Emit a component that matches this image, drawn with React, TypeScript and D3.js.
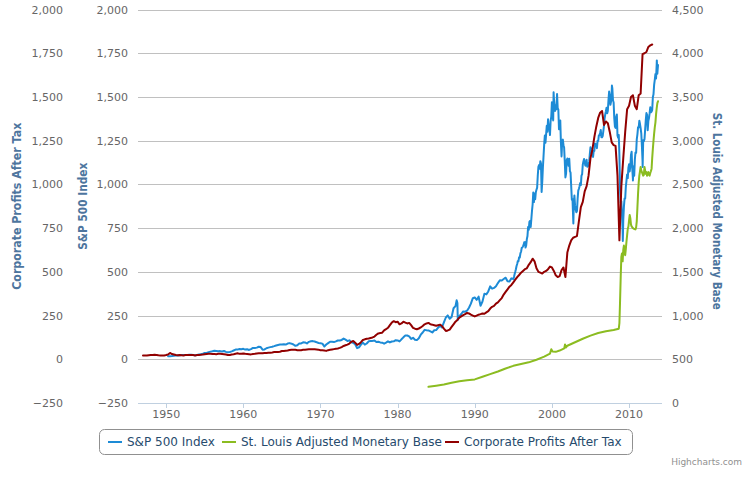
import React, { useEffect } from 'react';
import * as d3 from 'd3';

// ---------- axis ticks ----------
const leftTicks = [-250, 0, 250, 500, 750, 1000, 1250, 1500, 1750, 2000];
const rightTicks = [0, 500, 1000, 1500, 2000, 2500, 3000, 3500, 4000, 4500];
const xTickYears = [1950, 1960, 1970, 1980, 1990, 2000, 2010];

// ---------- S&P 500 Index ----------
// quarter-end closes, 1950 Q1 .. 1994 Q4
const spQuarterStart = 1950;
const spQuarterly = [
  17.3, 17.7, 18.7, 20.4,
  21.4, 21.0, 23.3, 23.8,
  24.4, 25.0, 25.0, 26.6,
  25.3, 24.1, 23.4, 24.8,
  26.9, 29.2, 32.3, 35.9,
  36.6, 41.0, 43.7, 45.5,
  48.5, 46.9, 45.4, 46.7,
  44.1, 47.4, 42.4, 39.9,
  42.1, 45.2, 50.1, 55.2,
  55.4, 58.5, 56.9, 59.9,
  55.3, 56.9, 53.5, 58.1,
  65.1, 64.6, 66.7, 71.6,
  69.6, 54.8, 56.3, 63.1,
  66.6, 69.4, 71.7, 75.0,
  78.9, 81.7, 84.2, 84.8,
  86.2, 84.1, 89.9, 92.4,
  89.2, 84.7, 77.0, 80.3,
  90.2, 90.6, 96.7, 96.5,
  90.2, 99.6, 102.7, 103.9,
  101.5, 97.7, 93.1, 92.1,
  89.6, 72.7, 84.2, 92.2,
  100.3, 99.7, 98.3, 102.1,
  107.2, 107.1, 110.6, 118.1,
  112.0, 104.3, 108.4, 97.6,
  93.9, 86.0, 63.5, 68.6,
  83.4, 95.2, 83.9, 90.2,
  102.8, 104.3, 105.2, 107.5,
  98.4, 100.5, 96.5, 95.1,
  89.2, 95.5, 102.5, 96.1,
  101.6, 102.9, 109.3, 107.9,
  102.1, 114.2, 125.5, 135.8,
  136.0, 131.2, 116.2, 122.6,
  111.9, 109.6, 120.4, 140.6,
  153.0, 168.1, 166.1, 164.9,
  159.2, 153.2, 166.1, 167.2,
  180.7, 191.9, 182.1, 211.3,
  238.9, 250.8, 231.3, 242.2,
  291.7, 304.0, 321.8, 247.1,
  258.9, 273.5, 271.9, 277.7,
  294.9, 317.9, 349.2, 353.4,
  339.9, 358.0, 306.1, 330.2,
  375.2, 371.2, 387.9, 417.1,
  403.7, 408.1, 417.8, 435.7,
  451.7, 450.5, 458.9, 466.5,
  445.8, 444.3, 462.7, 459.3,
];
// month-end closes, 1995-01 .. 2013-09
const spMonthStart = 1995;
const spMonthly = [
  470, 487, 500, 515, 533, 545, 562, 561, 584, 582, 605, 615,
  636, 640, 645, 654, 669, 670, 639, 651, 687, 705, 757, 740,
  786, 791, 757, 801, 848, 885, 954, 899, 947, 915, 955, 970,
  980, 1049, 1101, 1111, 1090, 1133, 1120, 957, 1017, 1098, 1163, 1229,
  1279, 1238, 1286, 1335, 1301, 1372, 1328, 1320, 1282, 1362, 1388, 1469,
  1394, 1366, 1498, 1452, 1420, 1454, 1430, 1517, 1436, 1429, 1315, 1320,
  1366, 1240, 1160, 1249, 1256, 1224, 1211, 1133, 1040, 1060, 1139, 1148,
  1130, 1106, 1147, 1076, 1067, 990, 912, 916, 815, 885, 936, 880,
  855, 841, 848, 917, 964, 975, 990, 1008, 996, 1050, 1058, 1112,
  1131, 1145, 1126, 1107, 1121, 1141, 1101, 1104, 1115, 1130, 1174, 1212,
  1181, 1204, 1181, 1157, 1192, 1191, 1234, 1220, 1229, 1207, 1249, 1248,
  1280, 1281, 1295, 1311, 1270, 1270, 1277, 1304, 1336, 1378, 1401, 1418,
  1438, 1407, 1421, 1482, 1531, 1503, 1455, 1474, 1527, 1549, 1481, 1468,
  1379, 1331, 1323, 1386, 1400, 1280, 1267, 1283, 1165, 969, 896, 903,
  826, 735, 798, 873, 919, 919, 987, 1021, 1057, 1036, 1096, 1115,
  1074, 1104, 1169, 1187, 1089, 1031, 1102, 1049, 1141, 1183, 1181, 1258,
  1286, 1327, 1326, 1364, 1345, 1321, 1292, 1219, 1131, 1253, 1247, 1258,
  1312, 1366, 1408, 1398, 1310, 1362, 1379, 1407, 1441, 1412, 1416, 1426,
  1498, 1515, 1569, 1598, 1631, 1606, 1686, 1633, 1682,
];
// intra-month highs and lows
const spExtremes: [number, number][] = [
  [1987.65, 337], [1987.8, 225], [2000.22, 1527], [2002.78, 776],
  [2007.78, 1565], [2009.19, 677], [2010.5, 1022], [2011.76, 1099], [2013.6, 1709],
];

// ---------- St. Louis Adjusted Monetary Base ----------
const monetaryBase: [number, number][] = [
  [1984.0, 185], [1985.0, 198], [1986.0, 212], [1987.0, 232], [1988.0, 248], [1989.0, 260],
  [1990.0, 270], [1991.0, 300], [1992.0, 330], [1993.0, 360], [1994.0, 395], [1995.0, 425],
  [1996.0, 445], [1997.0, 465], [1998.0, 495], [1999.0, 530], [1999.75, 565], [1999.92, 615],
  [2000.08, 590], [2000.5, 585], [2001.0, 600], [2001.6, 625], [2001.7, 670], [2001.8, 635],
  [2002.0, 655], [2003.0, 695], [2004.0, 735], [2005.0, 770], [2006.0, 800], [2007.0, 820],
  [2008.0, 835], [2008.67, 850], [2008.75, 915], [2008.83, 1150], [2008.92, 1450], [2009.0, 1670],
  [2009.08, 1710], [2009.17, 1620], [2009.25, 1750], [2009.33, 1800], [2009.42, 1740], [2009.5, 1690],
  [2009.58, 1760], [2009.67, 1850], [2009.75, 1920], [2009.83, 1990], [2009.92, 2020], [2010.0, 2090],
  [2010.08, 2150], [2010.17, 2110], [2010.25, 2040], [2010.33, 2020], [2010.5, 2000], [2010.67, 1990],
  [2010.83, 1985], [2010.92, 2010], [2011.0, 2080], [2011.08, 2230], [2011.17, 2400], [2011.25, 2520],
  [2011.33, 2600], [2011.42, 2650], [2011.5, 2700], [2011.58, 2660], [2011.67, 2640], [2011.75, 2620],
  [2011.83, 2600], [2011.92, 2610], [2012.0, 2700], [2012.08, 2660], [2012.17, 2620], [2012.25, 2640],
  [2012.33, 2600], [2012.42, 2630], [2012.5, 2640], [2012.58, 2610], [2012.67, 2600], [2012.75, 2630],
  [2012.83, 2650], [2012.92, 2680], [2013.0, 2800], [2013.08, 2900], [2013.17, 3000], [2013.25, 3080],
  [2013.33, 3150], [2013.42, 3210], [2013.5, 3300], [2013.58, 3370], [2013.67, 3430], [2013.75, 3450],
];

// ---------- Corporate Profits After Tax (quarterly, 1947 Q1 ..) ----------
const cpStart = 1947;
const corporateProfits = [
  22, 21, 21, 23,
  24, 25, 26, 25,
  23, 22, 22, 22,
  24, 27, 36, 30,
  27, 24, 23, 24,
  23, 22, 24, 25,
  25, 25, 24, 22,
  24, 25, 26, 27,
  29, 30, 31, 31,
  30, 30, 29, 31,
  31, 30, 29, 27,
  24, 24, 27, 29,
  32, 34, 31, 31,
  33, 31, 30, 29,
  28, 30, 31, 33,
  34, 34, 35, 36,
  36, 37, 38, 39,
  41, 42, 42, 43,
  47, 48, 49, 50,
  53, 54, 54, 54,
  52, 51, 52, 54,
  55, 56, 57, 58,
  58, 57, 56, 55,
  52, 51, 50, 48,
  52, 54, 56, 58,
  60, 62, 65, 70,
  76, 80, 84, 90,
  100, 105, 95, 82,
  88, 98, 110, 114,
  117, 119, 122, 125,
  130, 140, 148, 150,
  152, 165, 172, 180,
  195, 210, 218, 212,
  215, 200, 205, 215,
  210, 205, 208, 195,
  180, 175, 172, 176,
  182, 190, 200, 205,
  208, 200, 198, 195,
  192, 195, 198, 190,
  175, 162, 165, 170,
  185, 200, 215, 225,
  238, 245, 252, 258,
  265, 262, 255, 250,
  245, 250, 255, 258,
  262, 260, 268, 275,
  290, 300, 305, 318,
  325, 338, 350, 370,
  385, 400, 415, 425,
  440, 455, 470, 482,
  495, 505, 515, 520,
  540, 555, 575, 560,
  520, 500, 495, 490,
  500, 505, 515, 530,
  525, 505, 480, 470,
  475, 510, 525, 470,
  610, 650, 680, 695,
  700, 705, 790, 870,
  900, 960, 990, 1050,
  1150, 1200, 1270, 1330,
  1380, 1410, 1420, 1340,
  1360, 1350, 1300, 1240,
  1225, 1220, 1050, 680,
  990, 1150, 1300, 1430,
  1450, 1500, 1510, 1450,
  1430, 1510, 1520, 1745,
  1750, 1757, 1786, 1795,
  1800,
];

const seriesNames = ['S&P 500 Index', 'St. Louis Adjusted Monetary Base', 'Corporate Profits After Tax'];
const seriesColors = ['#1d8bd6', '#8bbc21', '#910000'];

const W = 752;
const H = 477;
const P = { left: 138, right: 662, top: 9.5, bottom: 403 };
const FONT = '"Lucida Grande", "Lucida Sans Unicode", "DejaVu Sans", Verdana, sans-serif';

export default function App() {
  useEffect(() => {
    document.body.style.margin = '0';
  }, []);

  const x = d3.scaleLinear().domain([1946.35, 2014.27]).range([P.left, P.right]);
  const yL = d3.scaleLinear().domain([-250, 2000]).range([P.bottom, P.top]);
  const yR = d3.scaleLinear().domain([0, 4500]).range([P.bottom, P.top]);

  const spData: [number, number][] = [
    ...spQuarterly.map((v, i) => [spQuarterStart + (i + 1) / 4, v] as [number, number]),
    ...spMonthly.map((v, i) => [spMonthStart + (i + 1) / 12, v] as [number, number]),
    ...spExtremes,
  ].sort((a, b) => a[0] - b[0]);
  const cpData: [number, number][] = corporateProfits.map((v, i) => [cpStart + i / 4, v]);

  const lineL = d3.line<[number, number]>().x((d) => x(d[0])).y((d) => yL(d[1]));
  const lineR = d3.line<[number, number]>().x((d) => x(d[0])).y((d) => yR(d[1]));

  const labelColor = '#666666';
  const titleColor = '#4d759e';
  const crisp = (v: number) => Math.round(v) + 0.5;
  const midY = (P.top + P.bottom) / 2;

  const legendX = [108, 222, 445];

  return (
    <svg width={W} height={H} style={{ position: 'absolute', left: 0, top: 0, fontFamily: FONT }}>
      <rect x={0} y={0} width={W} height={H} fill="#ffffff" />
      <defs>
        <clipPath id="plotClip">
          <rect x={P.left} y={0} width={P.right - P.left} height={P.bottom + 2} />
        </clipPath>
      </defs>
      {/* grid lines */}
      {leftTicks.map((t) => (
        <line key={'g' + t} x1={P.left} x2={P.right} y1={crisp(yL(t))} y2={crisp(yL(t))} stroke="#C0C0C0" strokeWidth={1} />
      ))}
      {/* x axis */}
      <line x1={P.left} x2={P.right} y1={crisp(P.bottom)} y2={crisp(P.bottom)} stroke="#C0D0E0" strokeWidth={1} />
      {xTickYears.map((yr) => (
        <g key={'x' + yr}>
          <line x1={crisp(x(yr))} x2={crisp(x(yr))} y1={P.bottom} y2={P.bottom + 5} stroke="#C0D0E0" />
          <text x={x(yr)} y={418} textAnchor="middle" fontSize={11} fill={labelColor}>{yr}</text>
        </g>
      ))}
      {/* left axes labels */}
      {leftTicks.map((t) => (
        <g key={'l' + t}>
          <text x={63} y={yL(t) + 4} textAnchor="end" fontSize={11} fill={labelColor}>{d3.format(',')(t)}</text>
          <text x={128} y={yL(t) + 4} textAnchor="end" fontSize={11} fill={labelColor}>{d3.format(',')(t)}</text>
        </g>
      ))}
      {rightTicks.map((t) => (
        <text key={'r' + t} x={672} y={yR(t) + 4} textAnchor="start" fontSize={11} fill={labelColor}>{d3.format(',')(t)}</text>
      ))}
      {/* axis titles */}
      <text transform={`translate(17,${midY}) rotate(-90)`} textAnchor="middle" dominantBaseline="central" fontSize={11.5} fontWeight="bold" fill={titleColor} textLength={167} lengthAdjust="spacingAndGlyphs">Corporate Profits After Tax</text>
      <text transform={`translate(83,${midY}) rotate(-90)`} textAnchor="middle" dominantBaseline="central" fontSize={11.5} fontWeight="bold" fill={titleColor} textLength={87} lengthAdjust="spacingAndGlyphs">S&amp;P 500 Index</text>
      <text transform={`translate(717,${midY + 5}) rotate(90)`} textAnchor="middle" dominantBaseline="central" fontSize={11.5} fontWeight="bold" fill={titleColor} textLength={197} lengthAdjust="spacingAndGlyphs">St. Louis Adjusted Monetary Base</text>
      {/* series */}
      <g clipPath="url(#plotClip)" fill="none" strokeWidth={2} strokeLinejoin="round" strokeLinecap="round">
        <path d={lineL(spData) || ''} stroke={seriesColors[0]} />
        <path d={lineR(monetaryBase) || ''} stroke={seriesColors[1]} />
        <path d={lineL(cpData) || ''} stroke={seriesColors[2]} />
      </g>
      {/* legend */}
      <rect x={99.5} y={429.5} width={533} height={25} rx={5} ry={5} fill="none" stroke="#909090" strokeWidth={1} />
      {seriesNames.map((name, i) => (
        <g key={name}>
          <line x1={legendX[i]} x2={legendX[i] + 14} y1={442} y2={442} stroke={seriesColors[i]} strokeWidth={2} />
          <text x={legendX[i] + 19} y={446} fontSize={12} fill="#274b6d">{name}</text>
        </g>
      ))}
      {/* credits */}
      <text x={742} y={465} textAnchor="end" fontSize={9} fill="#909090">Highcharts.com</text>
    </svg>
  );
}
